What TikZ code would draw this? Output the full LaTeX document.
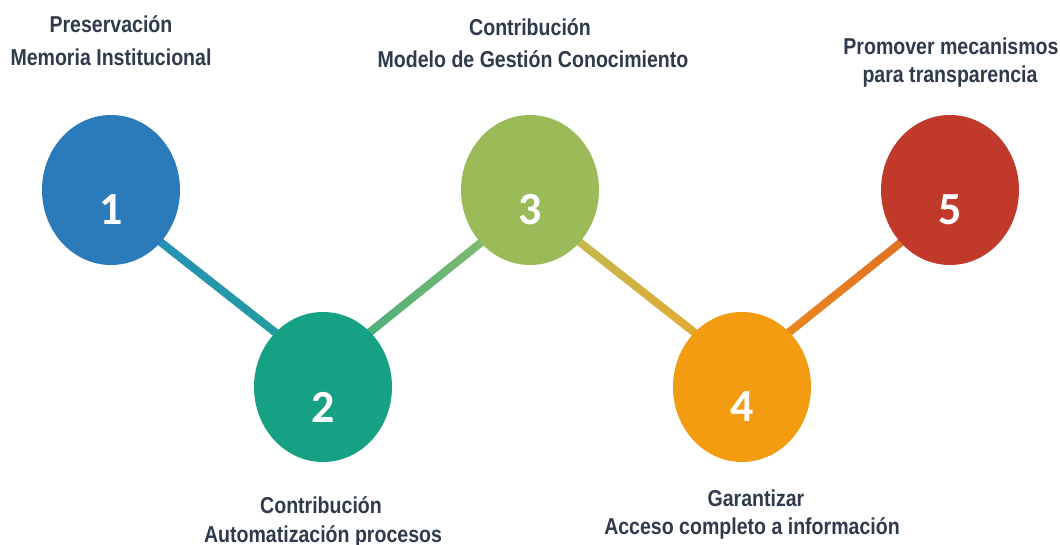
\documentclass[tikz,border=0pt]{standalone}
\usepackage{fontspec}
\setmainfont{Liberation Sans}
\newfontfamily\numfont{Carlito}
\usetikzlibrary{calc,backgrounds,shapes.geometric}
\definecolor{cblue}{HTML}{2B7BBA}
\definecolor{cteal}{HTML}{17A184}
\definecolor{cgreen}{HTML}{9BBB59}
\definecolor{corange}{HTML}{F39C12}
\definecolor{cred}{HTML}{C0392B}
\definecolor{txt}{HTML}{2F3B4C}
\definecolor{g1a}{HTML}{2A8DBA}
\definecolor{g1b}{HTML}{1FA09A}
\definecolor{g2a}{HTML}{3DAA80}
\definecolor{g2b}{HTML}{8EC06A}
\definecolor{g3a}{HTML}{B8BE57}
\definecolor{g3b}{HTML}{EDA52B}
\definecolor{g4a}{HTML}{EE8F1E}
\definecolor{g4b}{HTML}{DC6A24}
\newcommand{\gradline}[4]{%
  \foreach \k in {0,...,29}{%
    \pgfmathsetmacro\pp{100-\k*100/29}%
    \pgfmathsetmacro\ta{\k/30}%
    \pgfmathsetmacro\tb{(\k+1)/30}%
    \draw[conn, color=#3!\pp!#4] ($(#1)!\ta!(#2)$) -- ($(#1)!\tb!(#2)$);
  }%
}
\tikzset{
  bubble/.style={ellipse, minimum width=138pt, minimum height=150pt, inner sep=0pt, draw=none},
  num/.style={text=white, font=\numfont\bfseries\fontsize{46}{46}\selectfont, yshift=-20pt, inner sep=0pt},
  lbl/.style={anchor=base, inner sep=0pt, text=txt, font=\bfseries\fontsize{23}{28}\selectfont},
  conn/.style={line width=8pt, line cap=round}
}
\newcommand{\nx}[1]{\scalebox{0.85}[1]{#1}}
\begin{document}
\begin{tikzpicture}[x=1pt,y=-1pt]
\useasboundingbox (0,0) rectangle (1060,545);
% circles
\node[bubble, fill=cblue,   label={[num]center:1}] (n1) at (111,190) {};
\node[bubble, fill=cteal,   label={[num]center:2}] (n2) at (323,387) {};
\node[bubble, fill=cgreen,  label={[num]center:3}] (n3) at (530,190) {};
\node[bubble, fill=corange, label={[num]center:4}] (n4) at (742,387) {};
\node[bubble, fill=cred,    label={[num]center:5}] (n5) at (950,190) {};
% connector end points
\coordinate (e1) at ($(n1.center)+(0,13)$);
\coordinate (e2) at ($(n2.center)+(0,-17)$);
\coordinate (e3) at ($(n3.center)+(0,13)$);
\coordinate (e4) at ($(n4.center)+(0,-17)$);
\coordinate (e5) at ($(n5.center)+(0,13)$);
\begin{pgfonlayer}{background}
  \fill[white] (0,0) rectangle (1060,545);
  \gradline{e1}{e2}{g1a}{g1b}
  \gradline{e2}{e3}{g2a}{g2b}
  \gradline{e3}{e4}{g3a}{g3b}
  \gradline{e4}{e5}{g4a}{g4b}
\end{pgfonlayer}
% labels
\node[lbl] (t1a) at (111,33) {\nx{Preservación}};
\node[lbl] (t1b) at (111,66) {\nx{Memoria Institucional}};
\node[lbl] (t3a) at (530,36) {\nx{Contribución}};
\node[lbl] (t3b) at (533,68) {\nx{Modelo de Gestión Conocimiento}};
\node[lbl] (t5a) at (951,55) {\nx{Promover mecanismos}};
\node[lbl] (t5b) at (950,83) {\nx{para transparencia}};
\node[lbl] (t2a) at (321,513) {\nx{Contribución}};
\node[lbl] (t2b) at (323,542) {\nx{Automatización procesos}};
\node[lbl] (t4a) at (756,506) {\nx{Garantizar}};
\node[lbl] (t4b) at (752,534) {\nx{Acceso completo a información}};
\end{tikzpicture}
\end{document}
